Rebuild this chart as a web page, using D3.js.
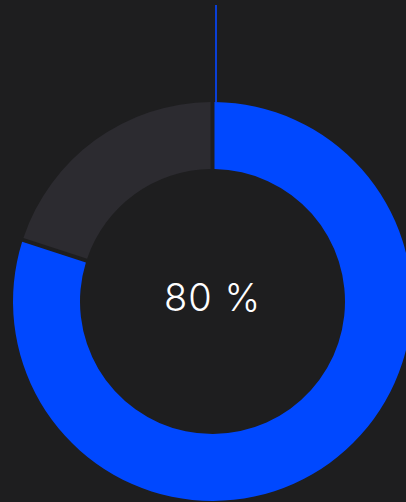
<!DOCTYPE html>
<html><head><meta charset="utf-8">
<script src="https://cdn.jsdelivr.net/npm/d3@7"></script>
<style>html,body{margin:0;padding:0;background:#1e1e1f;overflow:hidden}</style>
</head><body>
<svg id="c" width="406" height="502"></svg>
<script>
const categories = ["Completed", "Remaining"];
const values = [80, 20];
const centerLabel = "80 %";

const W = 406, H = 502;
const cx = 212.5, cy = 301.5, rOuter = 199.5, rInner = 132.5;
const colors = d3.scaleOrdinal().domain(categories).range(["#0048ff", "#2c2b30"]);

const svg = d3.select("#c");
svg.append("rect").attr("width", W).attr("height", H).attr("fill", "#1e1e1f");
const g = svg.append("g").attr("transform", `translate(${cx},${cy})`);

const pie = d3.pie().sort(null).value(d => d.v);
const arcs = pie(categories.map((c, i) => ({c, v: values[i]})));
const arc = d3.arc().innerRadius(rInner).outerRadius(rOuter).padAngle(0.02).padRadius(200);

g.selectAll("path").data(arcs).join("path")
  .attr("d", arc)
  .attr("fill", d => colors(d.data.c));

// leader line at the start of the first slice
g.append("line")
  .attr("x1", 3.5).attr("x2", 3.5)
  .attr("y1", -rOuter).attr("y2", -rOuter - 97)
  .attr("stroke", "#0a3fd6").attr("stroke-width", 2);

g.append("text")
  .attr("x", 0).attr("y", -5)
  .attr("text-anchor", "middle").attr("dominant-baseline", "central")
  .attr("fill", "#ffffff")
  .attr("font-family", "Inter, sans-serif").attr("font-size", 38).attr("font-weight", 300)
  .attr("letter-spacing", 1)
  .text(centerLabel);
</script>
</body></html>
